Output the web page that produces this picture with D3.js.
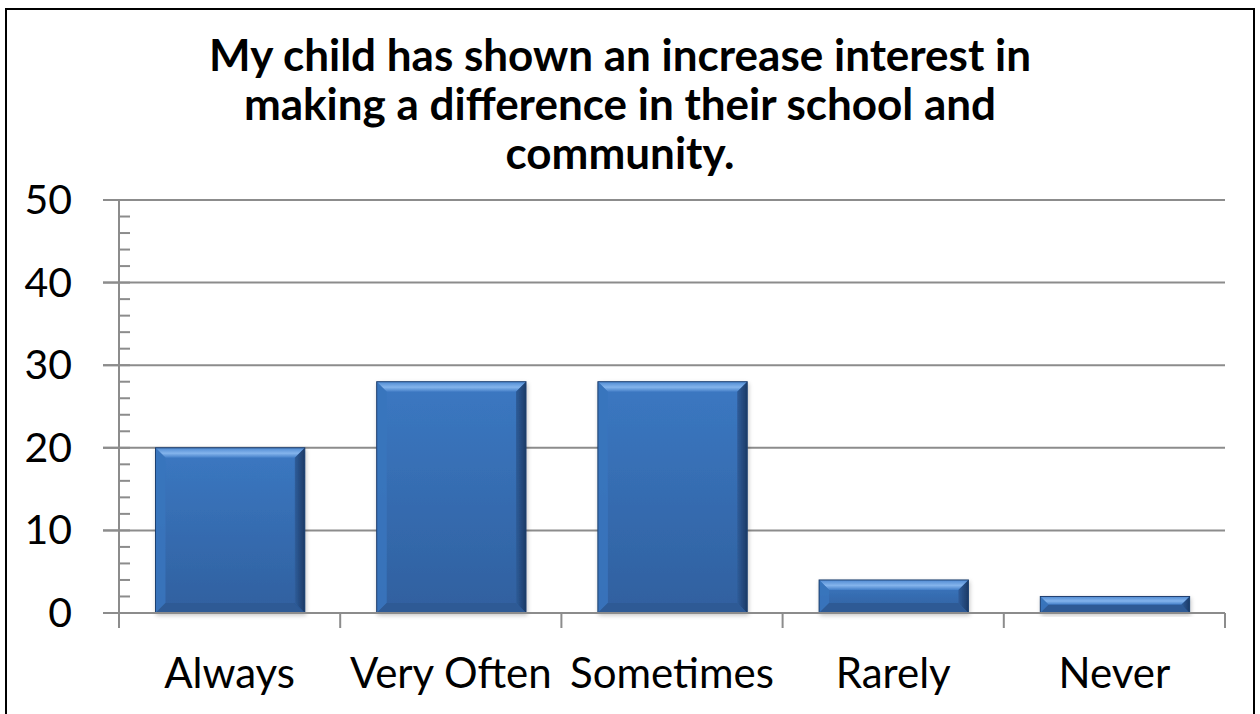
<!DOCTYPE html>
<html>
<head>
<meta charset="utf-8">
<script src="https://cdn.jsdelivr.net/npm/d3@7"></script>
<style>
  html, body { margin: 0; padding: 0; background: #fff; }
  svg { display: block; }
</style>
</head>
<body>
<svg id="chart" width="1260" height="714"></svg>
<script>
const titleLines = [
  "My child has shown an increase interest in",
  "making a difference in their school and",
  "community."
];
const categories = ["Always", "Very Often", "Sometimes", "Rarely", "Never"];
const values = [20, 28, 28, 4, 2];
const yTicks = [0, 10, 20, 30, 40, 50];

const svg = d3.select("#chart");
const margin = {top: 200, right: 35, bottom: 101, left: 119};
const W = 1260, H = 714;
const font = "Lato, 'Open Sans', sans-serif";

const x = d3.scaleBand().domain(categories).range([margin.left, W - margin.right]).padding(0);
const y = d3.scaleLinear().domain([0, 50]).range([H - margin.bottom, margin.top]);

const defs = svg.append("defs");
const body = defs.append("linearGradient").attr("id", "barBody")
  .attr("x1", 0).attr("y1", 0).attr("x2", 0).attr("y2", 1);
body.append("stop").attr("offset", "0%").attr("stop-color", "#3b78c2");
body.append("stop").attr("offset", "100%").attr("stop-color", "#30609f");

const topG = defs.append("linearGradient").attr("id", "barTop")
  .attr("x1", 0).attr("y1", 0).attr("x2", 0).attr("y2", 1);
topG.append("stop").attr("offset", "0%").attr("stop-color", "#4f8ad2");
topG.append("stop").attr("offset", "55%").attr("stop-color", "#84b4ec");
topG.append("stop").attr("offset", "100%").attr("stop-color", "#447fc8");

const rightG = defs.append("linearGradient").attr("id", "barRight")
  .attr("x1", 0).attr("y1", 0).attr("x2", 1).attr("y2", 0);
rightG.append("stop").attr("offset", "0%").attr("stop-color", "#2f5d9a");
rightG.append("stop").attr("offset", "100%").attr("stop-color", "#1c3a66");

const shadow = defs.append("filter").attr("id", "shadow")
  .attr("x", "-10%").attr("y", "-10%").attr("width", "120%").attr("height", "130%");
shadow.append("feDropShadow").attr("dx", 1).attr("dy", 2).attr("stdDeviation", 2)
  .attr("flood-color", "#000").attr("flood-opacity", 0.22);

// gridlines
svg.append("g").selectAll("line")
  .data(yTicks.filter(d => d > 0))
  .enter().append("line")
    .attr("x1", margin.left - 16).attr("x2", W - margin.right)
    .attr("y1", d => y(d)).attr("y2", d => y(d))
    .attr("stroke", "#8c8c8c").attr("stroke-width", 2);

// y axis with minor ticks inside
const yAxis = svg.append("g").attr("transform", "translate(" + margin.left + ",0)");
yAxis.append("line")
  .attr("y1", y(50)).attr("y2", y(0) + 15)
  .attr("stroke", "#8c8c8c").attr("stroke-width", 2);
yAxis.selectAll(".minor")
  .data(d3.range(0, 51, 2))
  .enter().append("line")
    .attr("class", "minor")
    .attr("x1", 0).attr("x2", 11)
    .attr("y1", d => y(d)).attr("y2", d => y(d))
    .attr("stroke", "#8c8c8c").attr("stroke-width", 2);
yAxis.selectAll(".major")
  .data(yTicks)
  .enter().append("line")
    .attr("class", "major")
    .attr("x1", -16).attr("x2", 0)
    .attr("y1", d => y(d)).attr("y2", d => y(d))
    .attr("stroke", "#8c8c8c").attr("stroke-width", 2);
yAxis.selectAll("text")
  .data(yTicks)
  .enter().append("text")
    .attr("x", -47)
    .attr("y", d => y(d) + 14)
    .attr("text-anchor", "end")
    .style("font-family", font)
    .style("font-size", "41px")
    .attr("fill", "#000")
    .text(d => d);

// bars with bevel
const bw = x.bandwidth();
const inset = bw * 0.165;
const barW = bw * 0.675;
const bars = svg.append("g").selectAll("g")
  .data(categories.map((c, i) => ({name: c, total: values[i]})))
  .enter().append("g")
    .attr("filter", "url(#shadow)");

bars.each(function(d) {
  const g = d3.select(this);
  const x0 = x(d.name) + inset, x1 = x0 + barW;
  const y0 = y(d.total), y1 = y(0);
  const b = Math.min(10, (y1 - y0) / 2);
  g.append("rect")
    .attr("x", x0).attr("y", y0).attr("width", barW).attr("height", y1 - y0)
    .attr("fill", "url(#barBody)");
  // top bevel
  g.append("polygon")
    .attr("points", [[x0, y0], [x1, y0], [x1 - b, y0 + b], [x0 + b, y0 + b]].join(" "))
    .attr("fill", "url(#barTop)");
  // left bevel
  g.append("polygon")
    .attr("points", [[x0, y0], [x0 + b, y0 + b], [x0 + b, y1 - b], [x0, y1]].join(" "))
    .attr("fill", "#3a74bd").attr("fill-opacity", 0.9);
  // right bevel
  g.append("polygon")
    .attr("points", [[x1, y0], [x1 - b, y0 + b], [x1 - b, y1 - b], [x1, y1]].join(" "))
    .attr("fill", "url(#barRight)");
  // bottom bevel
  g.append("polygon")
    .attr("points", [[x0, y1], [x1, y1], [x1 - b, y1 - b], [x0 + b, y1 - b]].join(" "))
    .attr("fill", "#2d5a95");
  g.append("rect")
    .attr("x", x0).attr("y", y0).attr("width", barW).attr("height", y1 - y0)
    .attr("fill", "none").attr("stroke", "#1f406f").attr("stroke-width", 1);
});

// x axis
const xAxis = svg.append("g");
xAxis.append("line")
  .attr("x1", margin.left - 16).attr("x2", W - margin.right)
  .attr("y1", y(0)).attr("y2", y(0))
  .attr("stroke", "#8c8c8c").attr("stroke-width", 2);
xAxis.selectAll(".xt")
  .data(categories.map(c => x(c)).concat([W - margin.right]))
  .enter().append("line")
    .attr("class", "xt")
    .attr("x1", d => d).attr("x2", d => d)
    .attr("y1", y(0)).attr("y2", y(0) + 15)
    .attr("stroke", "#8c8c8c").attr("stroke-width", 2);
xAxis.selectAll("text")
  .data(categories)
  .enter().append("text")
    .attr("x", d => x(d) + bw / 2)
    .attr("y", 688)
    .attr("text-anchor", "middle")
    .style("font-family", font)
    .style("font-size", "42px")
    .attr("fill", "#000")
    .text(d => d);

// title
svg.append("g").selectAll("text")
  .data(titleLines)
  .enter().append("text")
    .attr("x", 620)
    .attr("y", (d, i) => 71 + i * 49)
    .attr("text-anchor", "middle")
    .style("font-family", font)
    .style("font-weight", "bold")
    .style("font-size", "44px")
    .attr("fill", "#000")
    .text(d => d);

// outer border
svg.append("rect")
  .attr("x", 6).attr("y", 9).attr("width", 1248).attr("height", 720)
  .attr("fill", "none").attr("stroke", "#000").attr("stroke-width", 2);
</script>
</body>
</html>
